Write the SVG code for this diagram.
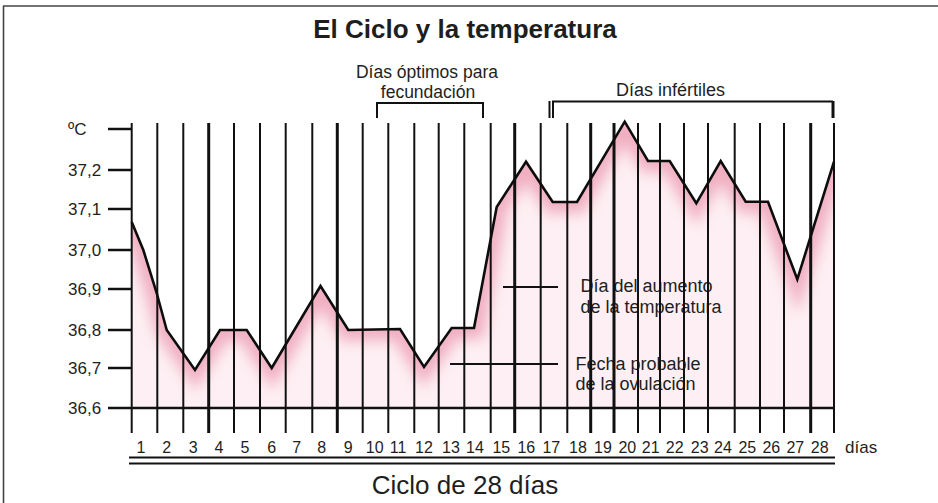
<svg xmlns="http://www.w3.org/2000/svg" width="938" height="503" viewBox="0 0 938 503">
<style>
  text { font-family: "Liberation Sans", Arial, sans-serif; fill: #1e1e1e; }
  .title { font-size: 26px; font-weight: bold; text-anchor: middle; }
  .ax { font-size: 17px; }
  .day { font-size: 16px; text-anchor: middle; }
  .lab { font-size: 18px; }
  .lab2 { font-size: 17.5px; text-anchor: middle; }
  .mid { text-anchor: middle; }
  .big { font-size: 26px; text-anchor: middle; }
  .ln { stroke: #111; stroke-width: 2; fill: none; }
  .thk { stroke: #111; stroke-width: 3; fill: none; }
  .tick { stroke: #111; stroke-width: 2.5; fill: none; }
  .curve { stroke: #0d0d0d; stroke-width: 2.6; fill: none; stroke-linejoin: miter; }
  .frame { stroke: #444; stroke-width: 1.6; fill: none; }
</style>
<defs>
  <clipPath id="under">
    <polygon points="131.7,222 143.3,250 156.7,293 166.7,330 195,370 220,330 246.7,330 271.7,368 320.5,286 348.3,330 400,329 424,367 451.7,328 474,328 496.7,207 526,161.7 552.7,202 577,202 624.7,121.7 648,161 669.7,161 696.3,203.3 720.7,161 745.7,201.7 768,201.7 797.3,279.3 834,161.7 834,408 131.7,408"/>
  </clipPath>
  <filter id="soft" x="-5%" y="-20%" width="110%" height="140%">
    <feGaussianBlur stdDeviation="7"/>
  </filter>
</defs>

<g id="frame">
  <line class="frame" x1="3" y1="6" x2="938" y2="6"/>
  <line class="frame" x1="3.5" y1="6" x2="3.5" y2="503"/>
</g>

<g id="title">
  <text class="title" x="465" y="38">El Ciclo y la temperatura</text>
</g>

<g id="fill">
  <rect x="131" y="115" width="704" height="293" fill="#fdeff3" clip-path="url(#under)"/>
  <g clip-path="url(#under)">
    <polyline points="131.7,222 143.3,250 156.7,293 166.7,330 195,370 220,330 246.7,330 271.7,368 320.5,286 348.3,330 400,329 424,367 451.7,328 474,328 496.7,207 526,161.7 552.7,202 577,202 624.7,121.7 648,161 669.7,161 696.3,203.3 720.7,161 745.7,201.7 768,201.7 797.3,279.3 834,161.7" fill="none" stroke="#f0aec1" stroke-width="22" filter="url(#soft)"/>
  </g>
</g>

<g id="annotation-text">
  <text class="lab" x="580.5" y="292">Día del aumento</text>
  <text class="lab" x="580.5" y="313">de la temperatura</text>
  <text class="lab" x="575.5" y="370">Fecha probable</text>
  <text class="lab" x="575.5" y="390">de la ovulación</text>
</g>

<g id="axis">
  <text class="ax" x="68" y="135">ºC</text>
  <text class="ax" x="68" y="176">37,2</text>
  <text class="ax" x="68" y="215">37,1</text>
  <text class="ax" x="68" y="256">37,0</text>
  <text class="ax" x="68" y="295">36,9</text>
  <text class="ax" x="68" y="336">36,8</text>
  <text class="ax" x="68" y="374">36,7</text>
  <text class="ax" x="68" y="414">36,6</text>
  <line class="tick" x1="108" y1="129" x2="131.7" y2="129"/>
  <line class="tick" x1="108" y1="170" x2="131.7" y2="170"/>
  <line class="tick" x1="108" y1="209" x2="131.7" y2="209"/>
  <line class="tick" x1="108" y1="250" x2="131.7" y2="250"/>
  <line class="tick" x1="108" y1="289" x2="131.7" y2="289"/>
  <line class="tick" x1="108" y1="330" x2="131.7" y2="330"/>
  <line class="tick" x1="108" y1="368" x2="131.7" y2="368"/>
  <line class="tick" x1="108" y1="408" x2="835" y2="408"/>
</g>

<g id="grid">
  <line class="ln" x1="131.7" y1="123" x2="131.7" y2="433"/>
  <line class="ln" x1="157.3" y1="123" x2="157.3" y2="433"/>
  <line class="ln" x1="183.3" y1="123" x2="183.3" y2="433"/>
  <line class="thk" x1="208.7" y1="123" x2="208.7" y2="433"/>
  <line class="ln" x1="234" y1="123" x2="234" y2="433"/>
  <line class="ln" x1="260" y1="123" x2="260" y2="433"/>
  <line class="ln" x1="285.7" y1="123" x2="285.7" y2="433"/>
  <line class="ln" x1="312.3" y1="123" x2="312.3" y2="433"/>
  <line class="thk" x1="337.3" y1="123" x2="337.3" y2="433"/>
  <line class="ln" x1="362.7" y1="123" x2="362.7" y2="433"/>
  <line class="ln" x1="388.3" y1="123" x2="388.3" y2="433"/>
  <line class="ln" x1="414.3" y1="123" x2="414.3" y2="433"/>
  <line class="ln" x1="438.7" y1="123" x2="438.7" y2="433"/>
  <line class="ln" x1="464.3" y1="123" x2="464.3" y2="433"/>
  <line class="ln" x1="490.7" y1="123" x2="490.7" y2="433"/>
  <line class="thk" x1="514.7" y1="123" x2="514.7" y2="433"/>
  <line class="ln" x1="540.7" y1="123" x2="540.7" y2="433"/>
  <line class="ln" x1="567.3" y1="123" x2="567.3" y2="433"/>
  <line class="thk" x1="590.7" y1="123" x2="590.7" y2="433"/>
  <line class="thk" x1="614" y1="123" x2="614" y2="433"/>
  <line class="ln" x1="638" y1="123" x2="638" y2="433"/>
  <line class="ln" x1="660" y1="123" x2="660" y2="433"/>
  <line class="ln" x1="684" y1="123" x2="684" y2="433"/>
  <line class="ln" x1="708" y1="123" x2="708" y2="433"/>
  <line class="ln" x1="734.7" y1="123" x2="734.7" y2="433"/>
  <line class="ln" x1="760" y1="123" x2="760" y2="433"/>
  <line class="ln" x1="784" y1="123" x2="784" y2="433"/>
  <line class="thk" x1="810.7" y1="123" x2="810.7" y2="433"/>
  <line class="ln" x1="834" y1="123" x2="834" y2="433"/>
</g>

<g id="connectors">
  <polyline class="curve" points="131.7,222 143.3,250 156.7,293 166.7,330 195,370 220,330 246.7,330 271.7,368 320.5,286 348.3,330 400,329 424,367 451.7,328 474,328 496.7,207 526,161.7 552.7,202 577,202 624.7,121.7 648,161 669.7,161 696.3,203.3 720.7,161 745.7,201.7 768,201.7 797.3,279.3 834,161.7"/>
  <line class="ln" x1="503" y1="287" x2="558" y2="287"/>
  <line class="ln" x1="450" y1="364" x2="558" y2="364"/>
</g>

<g id="bracket-fecundacion">
  <text class="lab2" x="427" y="78">Días óptimos para</text>
  <text class="lab2" x="428" y="97.5">fecundación</text>
  <polyline class="ln" points="377,118 377,103 483,103 483,118"/>
</g>

<g id="bracket-infertiles">
  <text class="lab mid" x="670.5" y="96">Días infértiles</text>
  <line class="ln" x1="549.5" y1="101" x2="549.5" y2="118" stroke-width="1.6"/>
  <polyline class="ln" points="553,118 553,101.5 833,101.5"/>
  <line class="thk" x1="833" y1="101" x2="833" y2="118"/>
</g>

<g id="days">
  <text class="day" x="141" y="453">1</text>
  <text class="day" x="166.7" y="453">2</text>
  <text class="day" x="193.3" y="453">3</text>
  <text class="day" x="219" y="453">4</text>
  <text class="day" x="245" y="453">5</text>
  <text class="day" x="271.7" y="453">6</text>
  <text class="day" x="296.7" y="453">7</text>
  <text class="day" x="321.7" y="453">8</text>
  <text class="day" x="348.3" y="453">9</text>
  <text class="day" x="374.7" y="453">10</text>
  <text class="day" x="398" y="453">11</text>
  <text class="day" x="424" y="453">12</text>
  <text class="day" x="451" y="453">13</text>
  <text class="day" x="475" y="453">14</text>
  <text class="day" x="501.3" y="453">15</text>
  <text class="day" x="526.3" y="453">16</text>
  <text class="day" x="551.3" y="453">17</text>
  <text class="day" x="578" y="453">18</text>
  <text class="day" x="603" y="453">19</text>
  <text class="day" x="627.3" y="453">20</text>
  <text class="day" x="650.7" y="453">21</text>
  <text class="day" x="674.7" y="453">22</text>
  <text class="day" x="699.7" y="453">23</text>
  <text class="day" x="723" y="453">24</text>
  <text class="day" x="747.3" y="453">25</text>
  <text class="day" x="771.3" y="453">26</text>
  <text class="day" x="795.3" y="453">27</text>
  <text class="day" x="819.7" y="453">28</text>
  <text class="ax" x="845" y="453">días</text>
  <line class="ln" x1="129" y1="457.5" x2="835" y2="457.5"/>
  <line class="ln" x1="129" y1="463.5" x2="835" y2="463.5"/>
  <text class="big" x="465" y="494">Ciclo de 28 días</text>
</g>
</svg>
